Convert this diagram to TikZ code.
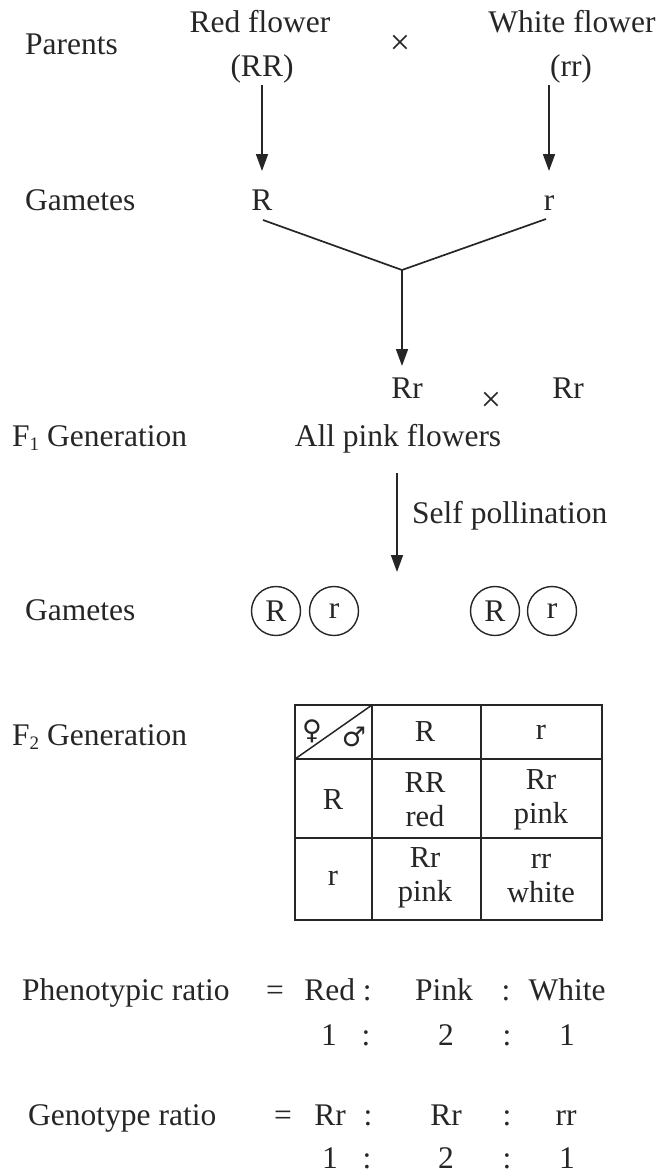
\documentclass[tikz,border=0pt]{standalone}
\usepackage{fontspec}
\setmainfont{Liberation Serif}
\newfontfamily\symfont{DejaVu Sans}
\usetikzlibrary{arrows.meta}
\begin{document}
\begin{tikzpicture}[x=1pt,y=-1pt,
  every node/.style={inner sep=0pt,text=black!85,font=\fontsize{31.5}{36}\selectfont},
  lbl/.style={anchor=base west},
  ctr/.style={anchor=base},
  arr/.style={draw=black!85,line width=1.7pt,-{Triangle[length=17pt,width=12pt]}},
  ln/.style={draw=black!85,line width=1.7pt},
  gam/.style={circle,draw=black!85,line width=1.4pt,minimum size=49pt},
  tx/.style={font=\fontsize{36}{36}\selectfont},
  cell/.style={align=center,font=\fontsize{30.5}{34}\selectfont}]
\useasboundingbox (0,0) rectangle (659,1176);
% Parents
\node[lbl] (parents) at (25,54) {Parents};
\node[ctr] (redf) at (260,32) {Red flower};
\node[ctr] (pRR) at (262,76) {(RR)};
\node[tx] (x1) at (400,45) {×};
\node[ctr] (whitef) at (572,32) {White flower};
\node[ctr] (prr) at (571,76) {(rr)};
% Gametes
\node[lbl] (gam1) at (25,210) {Gametes};
\node[ctr] (gR) at (262,210) {R};
\node[ctr] (gr) at (549,210) {r};
\draw[arr] (262,85) -- (gR.north |- 0,171);
\draw[arr] (549,85) -- (gr.north |- 0,171);
\coordinate (j) at (402,270);
\draw[ln] (263,220) -- (j) -- (546,219);
% F1
\node[ctr] (rr1) at (407,398) {Rr};
\node[ctr] (rr2) at (568,398) {Rr};
\node[tx] (x2) at (491,402) {×};
\draw[arr] (j) -- (402,366);
\node[lbl] (f1) at (12,446) {F{\fontsize{19}{19}\selectfont\raisebox{-4pt}{1}} Generation};
\node[ctr] (allpink) at (398,446) {All pink flowers};
\coordinate (sp) at (397,572);
\draw[arr] (397,473) -- (sp);
\node[lbl] (selfp) at (412,523) {Self pollination};
% Gametes 2
\node[lbl] (gam2) at (25,620) {Gametes};
\node[gam] (c1) at (276,611) {R};
\node[gam] (c2) at (334,611) {r};
\node[gam] (c3) at (495,611) {R};
\node[gam] (c4) at (552,611) {r};
% F2
\node[lbl] (f2) at (12,745) {F{\fontsize{19}{19}\selectfont\raisebox{-4pt}{2}} Generation};
\draw[ln,line width=1.5pt] (295,705) rectangle (602,920);
\draw[ln,line width=1.5pt] (372,705) -- (372,920);
\draw[ln,line width=1.5pt] (481,705) -- (481,920);
\draw[ln,line width=1.5pt] (295,759) -- (602,759);
\draw[ln,line width=1.5pt] (295,838) -- (602,838);
\draw[ln,line width=1.5pt] (295,759) -- (372,705);
\node[font=\symfont\fontsize{27}{27}\selectfont] (fem) at (312,731) {♀};
\node[font=\symfont\fontsize{27}{27}\selectfont] (mal) at (354,737) {♂};
\node[cell] (h1) at (425,732) {R};
\node[cell] (h2) at (541,732) {r};
\node[cell] (v1) at (333,800) {R};
\node[cell] (v2) at (333,878) {r};
\node[cell] (c11) at (425,800) {RR\\red};
\node[cell] (c12) at (541,800) {Rr\\pink};
\node[cell] (c21) at (425,878) {Rr\\pink};
\node[cell] (c22) at (541,878) {rr\\white};
% Phenotypic ratio
\node[lbl] (pheno) at (22,1000) {Phenotypic ratio};
\node[ctr] (pe) at (275,1000) {=};
\node[ctr] (pred) at (338,1000) {Red :};
\node[ctr] (ppink) at (444,1000) {Pink};
\node[ctr] (pc2) at (506,1000) {:};
\node[ctr] (pwhite) at (567,1000) {White};
\node[ctr] (p1) at (329,1045) {1};
\node[ctr] (pc3) at (366,1045) {:};
\node[ctr] (p2) at (446,1045) {2};
\node[ctr] (pc4) at (507,1045) {:};
\node[ctr] (p3) at (567,1045) {1};
% Genotype ratio
\node[lbl] (geno) at (28,1125) {Genotype ratio};
\node[ctr] (ge) at (283,1125) {=};
\node[ctr] (g1) at (330,1125) {Rr};
\node[ctr] (gc1) at (368,1125) {:};
\node[ctr] (g2) at (446,1125) {Rr};
\node[ctr] (gc2) at (507,1125) {:};
\node[ctr] (g3) at (566,1125) {rr};
\node[ctr] (q1) at (330,1168) {1};
\node[ctr] (qc1) at (367,1168) {:};
\node[ctr] (q2) at (446,1168) {2};
\node[ctr] (qc2) at (507,1168) {:};
\node[ctr] (q3) at (567,1168) {1};
\end{tikzpicture}
\end{document}
